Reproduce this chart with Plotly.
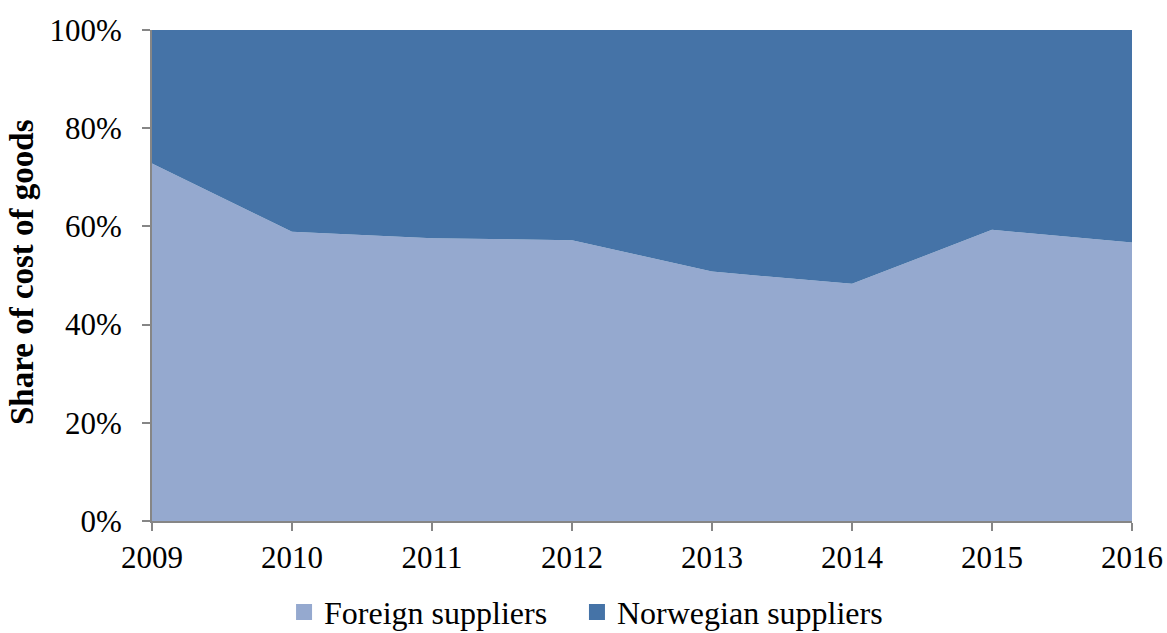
import plotly.graph_objects as go

years = [2009, 2010, 2011, 2012, 2013, 2014, 2015, 2016]
foreign = [72.8, 58.9, 57.6, 57.2, 50.8, 48.3, 59.3, 56.7]
norwegian = [27.2, 41.1, 42.4, 42.8, 49.2, 51.7, 40.7, 43.3]
y_ticks = [0, 20, 40, 60, 80, 100]
y_tick_labels = ["0%", "20%", "40%", "60%", "80%", "100%"]

c_foreign = "#95A9CF"
c_norw = "#4573A7"
font_family = "Liberation Serif, Times New Roman, serif"

fig = go.Figure()
fig.add_trace(go.Scatter(x=years, y=foreign, name="Foreign suppliers", mode="none",
                         stackgroup="one", fillcolor=c_foreign, hoverinfo="x+y",
                         showlegend=False))
fig.add_trace(go.Scatter(x=years, y=norwegian, name="Norwegian suppliers", mode="none",
                         stackgroup="one", fillcolor=c_norw, hoverinfo="x+y",
                         showlegend=False))
# legend entries (square swatches)
fig.add_trace(go.Scatter(x=[None], y=[None], name="Foreign suppliers", mode="markers",
                         marker=dict(symbol="square", size=18, color=c_foreign),
                         legend="legend"))
fig.add_trace(go.Scatter(x=[None], y=[None], name="Norwegian suppliers", mode="markers",
                         marker=dict(symbol="square", size=18, color=c_norw),
                         legend="legend2"))

leg_common = dict(orientation="h", xref="container", xanchor="left",
                  yref="container", y=0.033, yanchor="middle",
                  font=dict(size=32), bgcolor="rgba(0,0,0,0)")

fig.update_layout(
    width=1167, height=633,
    margin=dict(l=152, r=35, t=30, b=112, autoexpand=False),
    paper_bgcolor="white", plot_bgcolor="white",
    font=dict(family=font_family, size=31, color="black"),
    showlegend=True,
    legend=dict(x=0.2434, **leg_common),
    legend2=dict(x=0.4944, **leg_common),
    annotations=[dict(text="<b>Share of cost of goods</b>", xref="paper", yref="paper",
                      x=-0.1327, y=0.507, xanchor="center", yanchor="middle",
                      textangle=-90, showarrow=False, font=dict(size=33))],
)
fig.update_xaxes(range=[2009, 2016], tickmode="array", tickvals=years,
                 ticktext=[str(y) for y in years], ticklabeloverflow="allow",
                 showline=True, linecolor="#868686", linewidth=2,
                 ticks="outside", tickcolor="#868686", ticklen=8, tickwidth=2,
                 showgrid=False, zeroline=False, tickfont=dict(size=31))
fig.update_yaxes(range=[0, 100], tickmode="array", tickvals=y_ticks, ticktext=y_tick_labels,
                 showline=True, linecolor="#868686", linewidth=2,
                 ticks="outside", tickcolor="#868686", ticklen=8, tickwidth=2,
                 ticklabelstandoff=14,
                 showgrid=False, zeroline=False, tickfont=dict(size=31))

fig.write_html("out.html", config={"displayModeBar": False},
               post_script="document.body.style.margin='0';document.body.style.overflow='hidden';")
